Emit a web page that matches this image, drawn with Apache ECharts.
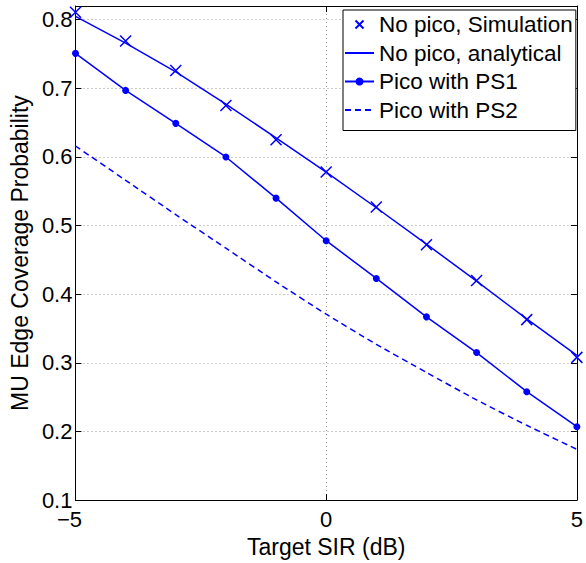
<!DOCTYPE html>
<html>
<head>
<meta charset="utf-8">
<script src="https://cdn.jsdelivr.net/npm/echarts@6/dist/echarts.min.js"></script>
<style>
  html, body { margin: 0; padding: 0; background: #fff; }
  #chart { width: 586px; height: 563px; }
</style>
</head>
<body>
<div id="chart"></div>
<script>
// Target SIR (dB)
var sirDb = [-5, -4, -3, -2, -1, 0, 1, 2, 3, 4, 5];
// MU edge coverage probability
var noPicoSim = [0.811, 0.769, 0.726, 0.675, 0.625, 0.578, 0.527, 0.472, 0.420, 0.363, 0.308];
var noPicoAnalytical = [0.805, 0.766, 0.724, 0.677, 0.628, 0.578, 0.526, 0.473, 0.419, 0.364, 0.311];
var picoPS1 = [0.751, 0.697, 0.649, 0.600, 0.540, 0.478, 0.423, 0.367, 0.315, 0.258, 0.207];
var picoPS2 = [0.616, 0.566, 0.516, 0.467, 0.418, 0.371, 0.327, 0.286, 0.246, 0.209, 0.174];
var seriesNames = ['No pico, Simulation', 'No pico, analytical', 'Pico with PS1', 'Pico with PS2'];

var FONT = '"Liberation Sans", Arial, sans-serif';
var BLUE = '#0000ff';

function pairs(ys) {
  return sirDb.map(function (x, i) { return [x, ys[i]]; });
}

var chart = echarts.init(document.getElementById('chart'), null, { renderer: 'svg' });

var gridLine = { show: true, lineStyle: { color: '#999', type: [1, 3], width: 1 } };
var frameLine = { show: true, onZero: false, lineStyle: { color: '#000', width: 1 } };
var inTick = { show: true, inside: true, length: 6, lineStyle: { color: '#000' } };

chart.setOption({
  animation: false,
  backgroundColor: '#fff',
  textStyle: { fontFamily: FONT },
  grid: { left: 74, right: 7, top: 6, bottom: 51, show: false },
  legend: {
    orient: 'vertical',
    left: 343,
    top: 10,
    padding: [3, 3, 9, 1],
    itemGap: 5.5,
    itemWidth: 29,
    itemHeight: 10,
    backgroundColor: '#fff',
    borderColor: '#000',
    borderWidth: 1,
    borderRadius: 0,
    textStyle: { fontSize: 22.5, color: '#000', fontFamily: FONT },
    data: [
      { name: seriesNames[0] },
      { name: seriesNames[1], itemStyle: { opacity: 0 } },
      { name: seriesNames[2] },
      { name: seriesNames[3], itemStyle: { opacity: 0 } }
    ]
  },
  xAxis: [{
    type: 'value', min: -5, max: 5, interval: 5, position: 'bottom',
    name: 'Target SIR (dB)', nameLocation: 'middle', nameGap: 27,
    nameTextStyle: { fontSize: 23, color: '#000', fontFamily: FONT },
    axisLine: frameLine,
    axisTick: inTick,
    axisLabel: { fontSize: 22, color: '#000', margin: 8,
      formatter: function (v) {
        return v < 0 ? '{m|' + String(v).replace('-', '\u2212') + '}' : String(v);
      },
      rich: { m: { fontSize: 22, color: '#000', fontFamily: FONT, padding: [0, 12, 0, 0] } } },
    splitLine: gridLine
  }, {
    type: 'value', min: -5, max: 5, interval: 5, position: 'top',
    axisLine: frameLine,
    axisTick: inTick,
    axisLabel: { show: false },
    splitLine: { show: false }
  }],
  yAxis: [{
    type: 'value', min: 0.1, max: 0.82, interval: 0.1, position: 'left',
    name: 'MU Edge Coverage Probability', nameLocation: 'middle', nameGap: 36,
    nameTextStyle: { fontSize: 23, color: '#000', fontFamily: FONT },
    axisLine: frameLine,
    axisTick: inTick,
    axisLabel: { fontSize: 22, color: '#000', margin: 3, showMaxLabel: false,
      formatter: function (v) { return v.toFixed(1); } },
    splitLine: gridLine
  }, {
    type: 'value', min: 0.1, max: 0.82, interval: 0.1, position: 'right',
    axisLine: frameLine,
    axisTick: inTick,
    axisLabel: { show: false },
    splitLine: { show: false }
  }],
  series: [{
    name: seriesNames[0], type: 'line', data: pairs(noPicoSim),
    symbol: 'path://M0,0L10,10M10,0L0,10', symbolSize: 11, showAllSymbol: true,
    itemStyle: { color: BLUE, borderColor: BLUE, borderWidth: 1.5 },
    lineStyle: { width: 0, opacity: 0 }, z: 4
  }, {
    name: seriesNames[1], type: 'line', data: pairs(noPicoAnalytical),
    symbol: 'none', itemStyle: { color: BLUE },
    lineStyle: { color: BLUE, width: 1.5 }, z: 3
  }, {
    name: seriesNames[2], type: 'line', data: pairs(picoPS1),
    symbol: 'circle', symbolSize: 7, showAllSymbol: true,
    itemStyle: { color: BLUE },
    lineStyle: { color: BLUE, width: 1.5 }, z: 3
  }, {
    name: seriesNames[3], type: 'line', data: pairs(picoPS2),
    symbol: 'none', smooth: 0.2, itemStyle: { color: BLUE },
    lineStyle: { color: BLUE, width: 1.5, type: [6, 4] }, z: 3
  }]
});
</script>
</body>
</html>
